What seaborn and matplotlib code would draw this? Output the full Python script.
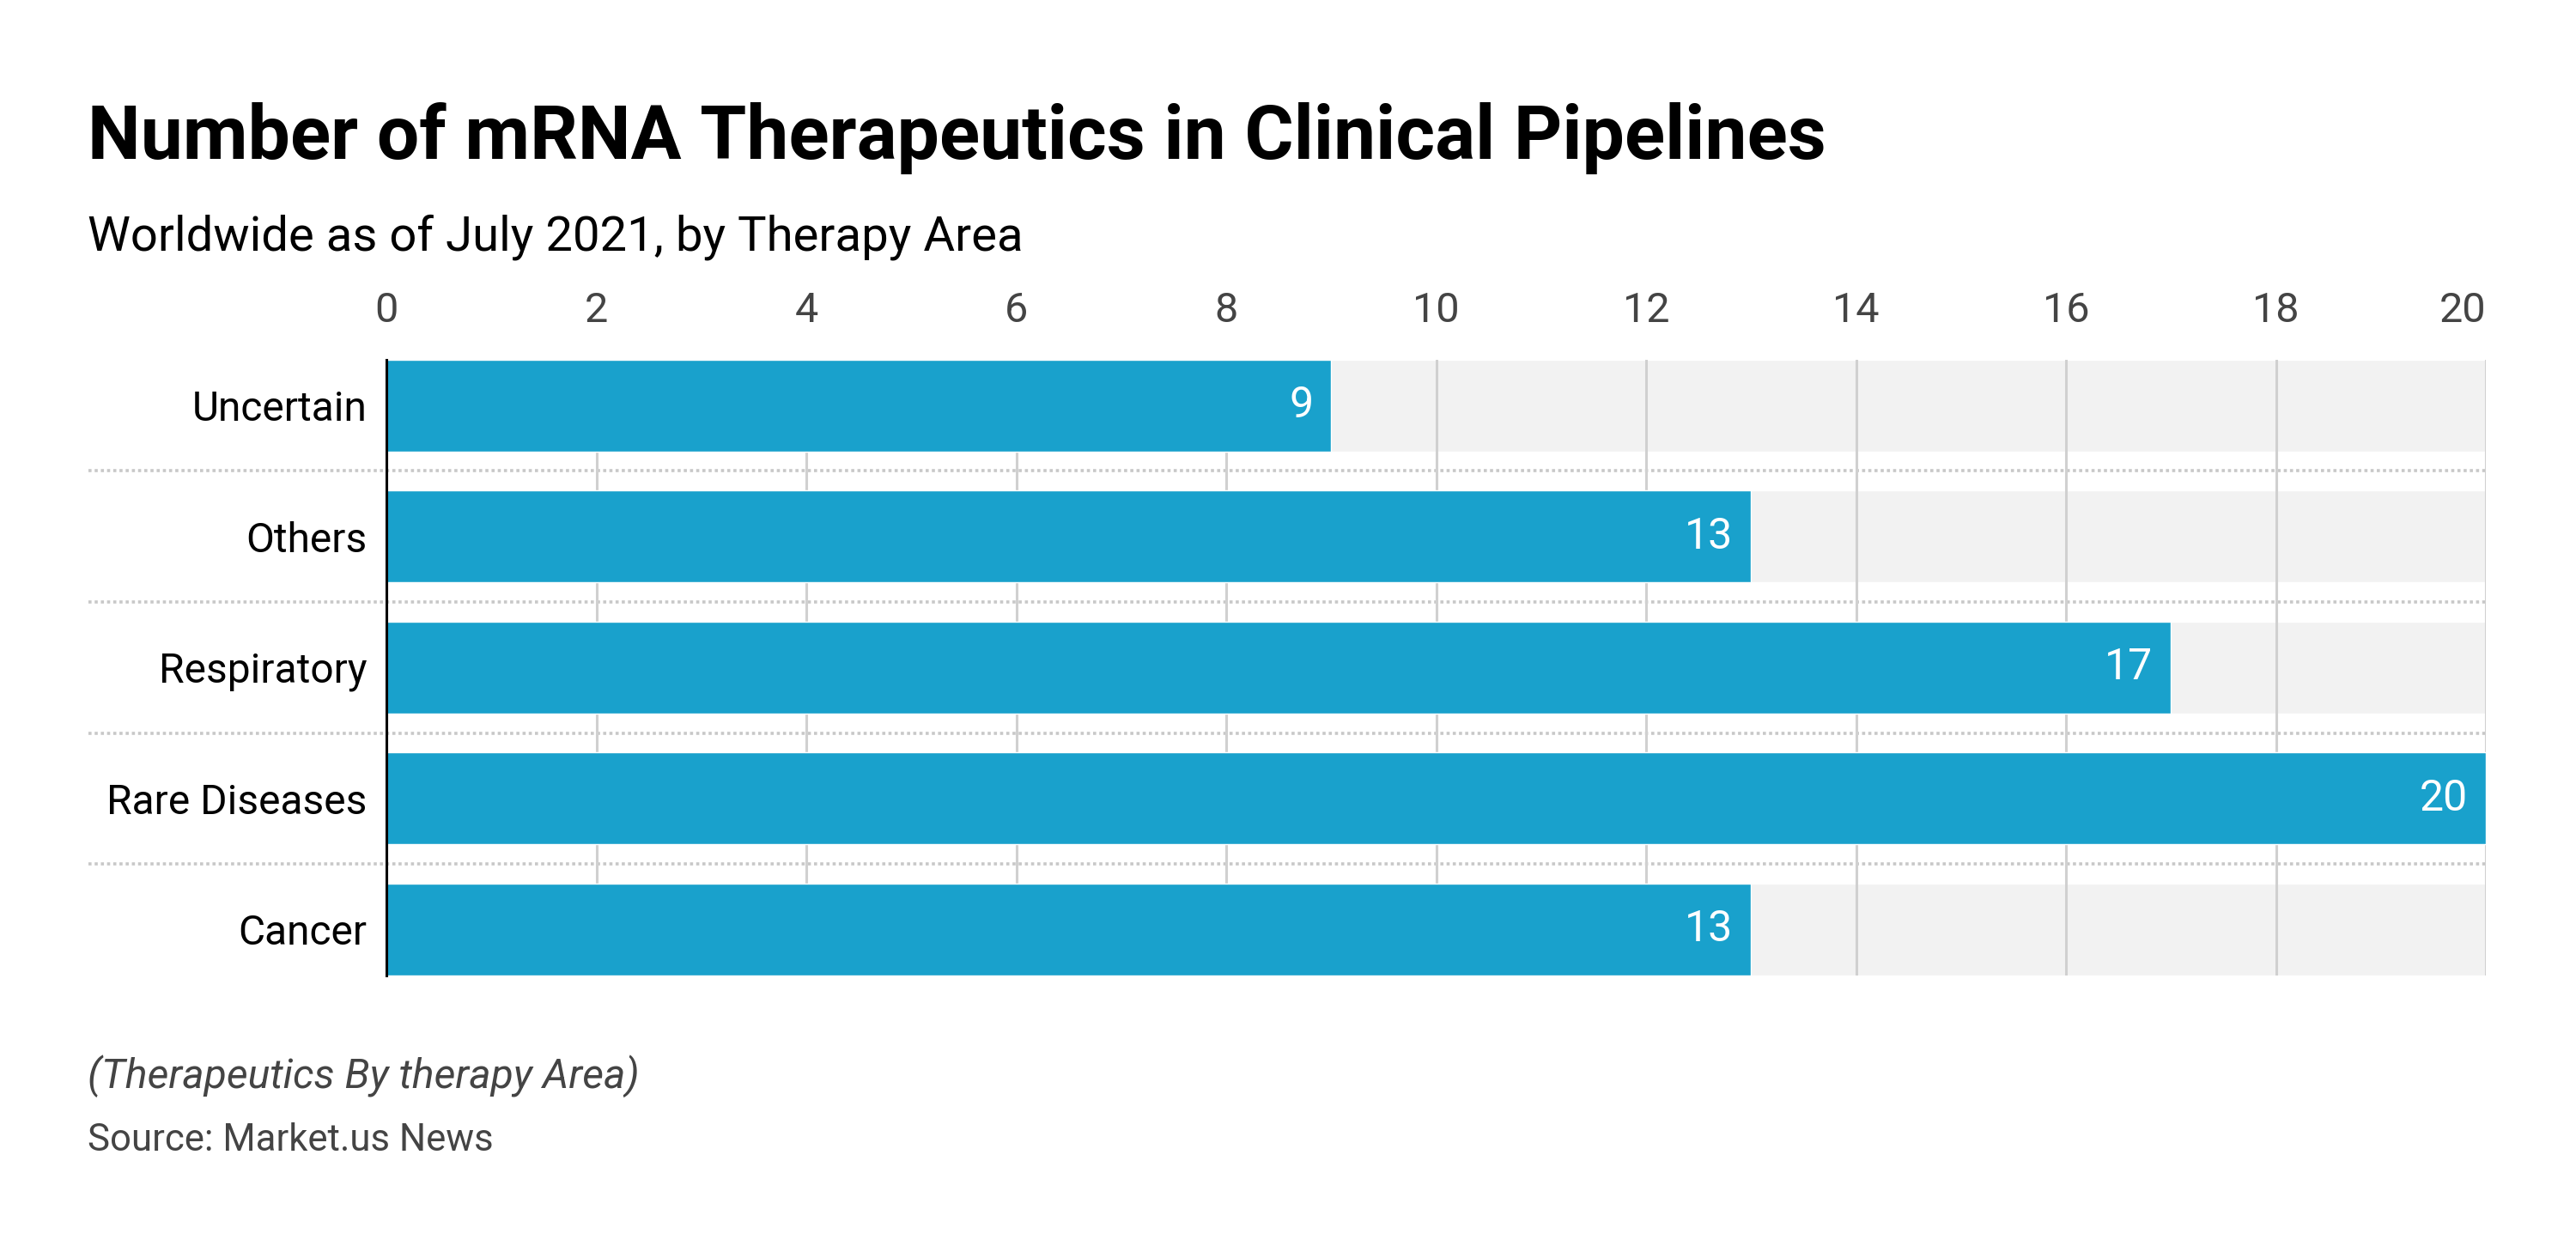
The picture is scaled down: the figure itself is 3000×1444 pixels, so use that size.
import matplotlib
matplotlib.use("Agg")
import matplotlib.pyplot as plt
import seaborn as sns
import pandas as pd

categories = ["Uncertain", "Others", "Respiratory", "Rare Diseases", "Cancer"]
values = [9, 13, 17, 20, 13]
x_ticks = [0, 2, 4, 6, 8, 10, 12, 14, 16, 18, 20]
x_max = 20

title = "Number of mRNA Therapeutics in Clinical Pipelines"
subtitle = "Worldwide as of July 2021, by Therapy Area"
note = "(Therapeutics By therapy Area)"
source = "Source: Market.us News"

BAR_COLOR = "#19a1cc"
TRACK_COLOR = "#f2f2f2"
GRID_COLOR = "#d0d0d0"
TEXT_GRAY = "#444444"

sns.set_theme(style="white")
plt.rcParams["font.family"] = ["Roboto", "DejaVu Sans"]

df = pd.DataFrame({"Area": categories, "Count": values})
df["Track"] = [x_max] * len(categories)

fig = plt.figure(figsize=(30, 14.44), dpi=100)
ax = fig.add_axes([0.15, 0.2135, 0.815, 0.4965])

# grey track behind each bar
sns.barplot(data=df, y="Area", x="Track", orient="h", color=TRACK_COLOR,
            width=0.7, saturation=1, ax=ax, zorder=1)
# vertical gridlines over the track
for t in x_ticks:
    ax.axvline(t, color=GRID_COLOR, linewidth=2.2, zorder=1.5)
# actual bars
sns.barplot(data=df, y="Area", x="Count", orient="h", color=BAR_COLOR,
            width=0.7, saturation=1, ax=ax, zorder=2)

ax.set_xlim(0, x_max)
ax.set_ylim(len(categories) - 1 + 0.35, -0.35)
ax.set_xlabel("")
ax.set_ylabel("")

ax.xaxis.tick_top()
ax.set_xticks(x_ticks)
ax.set_xticklabels([str(t) for t in x_ticks])
ax.tick_params(axis="x", length=0, pad=24, labelsize=35, labelcolor=TEXT_GRAY)
ax.tick_params(axis="y", length=0, pad=16, labelsize=34.5, labelcolor="black")
# last tick label sits inside the right edge
ax.get_xticklabels()[-1].set_horizontalalignment("right")

for side in ["top", "right", "bottom"]:
    ax.spines[side].set_visible(False)
ax.spines["left"].set_color("black")
ax.spines["left"].set_linewidth(2.2)
ax.spines["left"].set_zorder(3)

# dotted separators between rows
for i in range(len(categories) - 1):
    ax.axhline(i + 0.5, xmin=-0.142, xmax=1, color="#c8c8c8", linewidth=2.6,
               linestyle=(0, (1, 1)), clip_on=False, zorder=0.5)

# value labels inside bar ends
for i, v in enumerate(values):
    ax.text(v - 0.17, i, str(v), ha="right", va="center", color="white",
            fontsize=36, zorder=4)

fig.text(0.034, 0.872, title, fontsize=63, fontweight="bold", color="black",
         va="baseline", ha="left")
fig.text(0.034, 0.798, subtitle, fontsize=40.5, color="black", va="baseline", ha="left")
fig.text(0.034, 0.1226, note, fontsize=34.7, style="italic", color=TEXT_GRAY,
         va="baseline", ha="left")
fig.text(0.034, 0.072, source, fontsize=31.5, color=TEXT_GRAY, va="baseline", ha="left")

fig.savefig("out.png", dpi=100, facecolor="white")
plt.close(fig)
